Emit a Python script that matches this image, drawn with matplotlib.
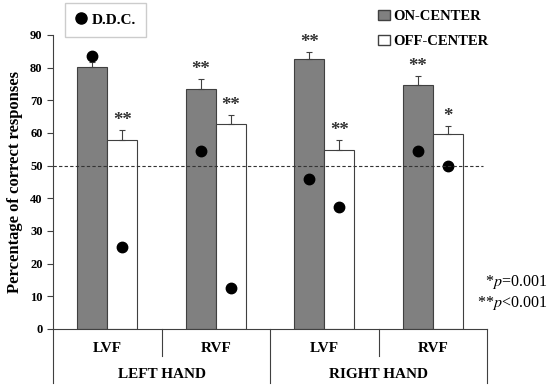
import matplotlib.pyplot as plt
from matplotlib.lines import Line2D
from matplotlib.patches import Patch

plt.rcParams['font.family'] = 'Liberation Serif'
plt.rcParams['mathtext.fontset'] = 'stix'

fields = ['LVF', 'RVF', 'LVF', 'RVF']
hands = ['LEFT HAND', 'RIGHT HAND']
on_center = [80.2, 73.5, 82.6, 74.7]
on_err = [1.5, 3.0, 2.3, 2.6]
off_center = [57.7, 62.8, 54.7, 59.6]
off_err = [3.2, 2.7, 3.2, 2.6]
ddc_on = [83.5, 54.5, 46.0, 54.5]
ddc_off = [25.0, 12.4, 37.3, 49.9]
on_stars = ['', '**', '**', '**']
off_stars = ['**', '**', '**', '*']

fig = plt.figure(figsize=(5.5, 3.87), dpi=100)
ax = fig.add_axes([0.0964, 0.1499, 0.7891, 0.7597])

w = 0.276
x = list(range(len(fields)))
xon = [i - w / 2 for i in x]
xoff = [i + w / 2 for i in x]

ax.bar(xon, on_center, w, color='#808080', edgecolor='#404040', linewidth=0.8,
       yerr=[[0] * 4, on_err], error_kw=dict(ecolor='#404040', elinewidth=0.8, capsize=2.5, capthick=0.8))
ax.bar(xoff, off_center, w, color='white', edgecolor='#404040', linewidth=0.8,
       yerr=[[0] * 4, off_err], error_kw=dict(ecolor='#404040', elinewidth=0.8, capsize=2.5, capthick=0.8))
ax.plot(xon, ddc_on, 'o', color='black', markersize=7.5)
ax.plot(xoff, ddc_off, 'o', color='black', markersize=7.5)

for xs, vals, errs, stars in [(xon, on_center, on_err, on_stars), (xoff, off_center, off_err, off_stars)]:
    for xi, v, e, s in zip(xs, vals, errs, stars):
        if s:
            ax.text(xi, v + e + 0.3, s, ha='center', va='bottom', fontsize=13.5,
                    fontweight='bold', color='#333333')

ax.axhline(50, xmin=0, xmax=0.99, color='#333333', linestyle=(0, (3, 2)), linewidth=0.8)

ax.set_xlim(-0.5, 3.5)
ax.set_ylim(0, 90)
ax.set_yticks(range(0, 91, 10))
ax.set_xticks([])
ax.tick_params(axis='y', labelsize=9, length=4, width=0.8, color='#404040')
for lab in ax.get_yticklabels():
    lab.set_fontweight('bold')
for side in ['top', 'right']:
    ax.spines[side].set_visible(False)
for side in ['left', 'bottom']:
    ax.spines[side].set_color('#404040')
    ax.spines[side].set_linewidth(0.8)
ax.set_ylabel('Percentage of correct responses', fontsize=12, fontweight='bold', labelpad=5)

# category table under the axis
tr = ax.get_xaxis_transform()
for xb in [-0.5, 1.5, 3.5]:
    ax.plot([xb, xb], [0, -0.184], transform=tr, color='#404040', lw=0.8, clip_on=False)
for xb in [0.5, 2.5]:
    ax.plot([xb, xb], [0, -0.092], transform=tr, color='#404040', lw=0.8, clip_on=False)
for i, f in enumerate(fields):
    ax.text(i, -0.065, f, transform=tr, ha='center', va='center', fontsize=11, fontweight='bold')
for j, h in enumerate(hands):
    ax.text(0.5 + 2 * j, -0.156, h, transform=tr, ha='center', va='center', fontsize=11, fontweight='bold')

# legends
fig.legend(handles=[Line2D([], [], marker='o', color='black', linestyle='', markersize=8)],
           labels=['D.D.C.'], loc='upper left', bbox_to_anchor=(0.112, 1.0),
           prop=dict(family='Liberation Serif', weight='bold', size=11),
           frameon=True, fancybox=False, edgecolor='#c0c0c0', handletextpad=0.3,
           handlelength=0.8, borderpad=0.65, borderaxespad=0.2)
fig.legend(handles=[Patch(facecolor='#808080', edgecolor='#404040'),
                    Patch(facecolor='white', edgecolor='#404040')],
           labels=['ON-CENTER', 'OFF-CENTER'], loc='upper left', bbox_to_anchor=(0.664, 1.008),
           prop=dict(family='Liberation Serif', weight='bold', size=10.5),
           frameon=False, handlelength=0.8, handleheight=0.7, handletextpad=0.2,
           labelspacing=0.8)

fig.text(0.995, 0.271, r'*$\mathit{p}$=0.001', ha='right', va='center', fontsize=11.5)
fig.text(0.995, 0.217, r'**$\mathit{p}$<0.001', ha='right', va='center', fontsize=11.5)

fig.savefig('out.png', dpi=100)
